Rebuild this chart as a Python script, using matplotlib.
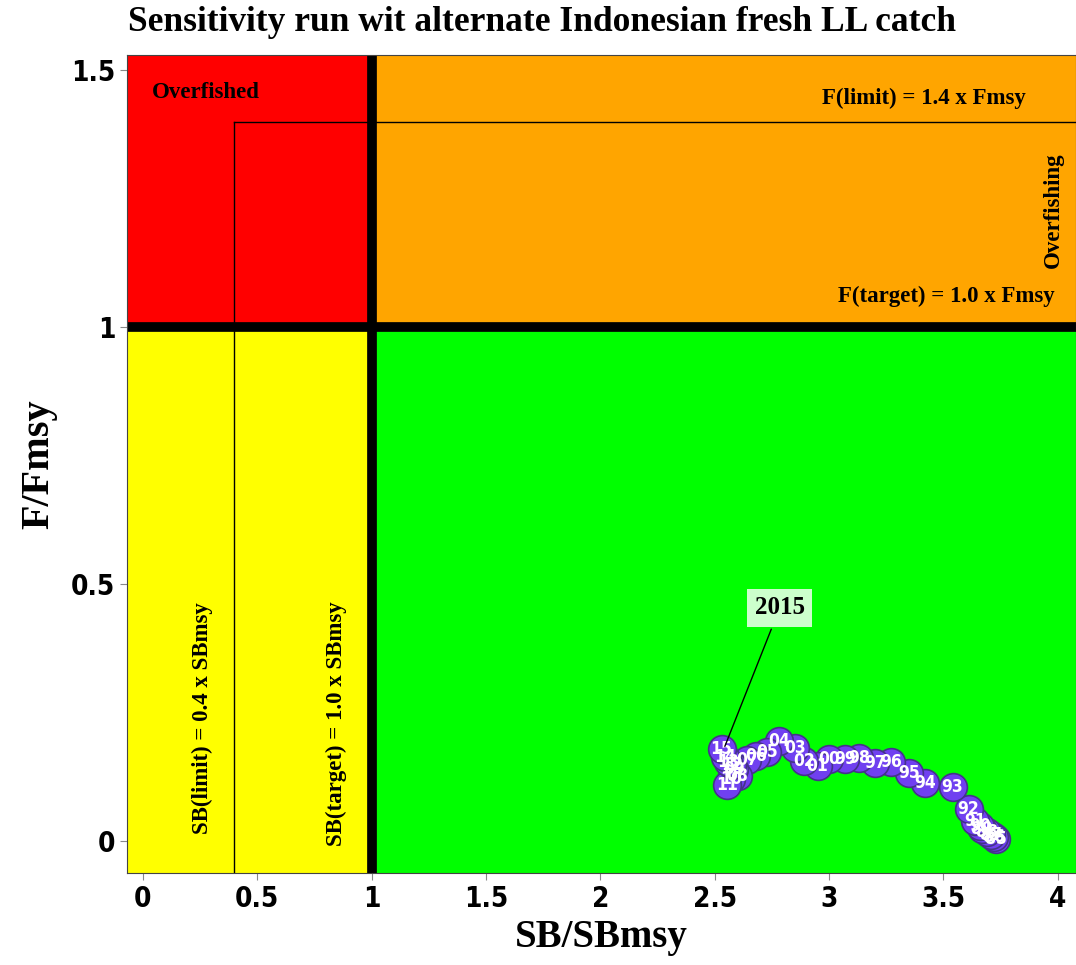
import matplotlib.pyplot as plt
import numpy as np
from matplotlib import font_manager

# data
years = np.array([1985, 1986, 1987, 1988, 1989, 1990, 1991, 1992, 1993, 1994,
                  1995, 1996, 1997, 1998, 1999, 2000, 2001, 2002, 2003, 2004,
                  2005, 2006, 2007, 2008, 2009, 2010, 2011, 2012, 2013, 2014, 2015])
sb_ratio = np.array([3.73, 3.72, 3.71, 3.69, 3.67, 3.66, 3.64, 3.61, 3.54, 3.42,
                     3.35, 3.27, 3.20, 3.13, 3.07, 3.00, 2.95, 2.89, 2.85, 2.78,
                     2.73, 2.68, 2.64, 2.60, 2.585, 2.57, 2.555, 2.575, 2.56, 2.545, 2.53])
f_ratio = np.array([0.005, 0.008, 0.012, 0.018, 0.025, 0.030, 0.040, 0.064, 0.105, 0.113,
                    0.134, 0.154, 0.152, 0.163, 0.160, 0.160, 0.147, 0.156, 0.181, 0.196,
                    0.175, 0.167, 0.158, 0.128, 0.140, 0.122, 0.109, 0.148, 0.155, 0.165, 0.180])
sb_limit, sb_target = 0.4, 1.0
f_limit, f_target = 1.4, 1.0

xlim = (-0.07, 4.08)
ylim = (-0.062, 1.53)

fams = set(f.name for f in font_manager.fontManager.ttflist)
narrow = 'Liberation Sans Narrow' if 'Liberation Sans Narrow' in fams else 'DejaVu Sans'
serif = 'Liberation Serif'

fig = plt.figure(figsize=(10.76, 9.65), dpi=100)
ax = fig.add_axes([0.118, 0.095, 0.882, 0.848])
ax.set_xlim(xlim)
ax.set_ylim(ylim)

# quadrants
ax.fill_between([xlim[0], sb_target], ylim[0], f_target, color='#ffff00', lw=0)
ax.fill_between([sb_target, xlim[1]], ylim[0], f_target, color='#00ff00', lw=0)
ax.fill_between([xlim[0], sb_target], f_target, ylim[1], color='#ff0000', lw=0)
ax.fill_between([sb_target, xlim[1]], f_target, ylim[1], color='#ffa500', lw=0)

# reference lines
ax.plot([sb_limit, sb_limit], [ylim[0], f_limit], color='black', lw=1)
ax.plot([sb_limit, xlim[1]], [f_limit, f_limit], color='black', lw=1)
ax.axvline(sb_target, color='black', lw=7)
ax.axhline(f_target, color='black', lw=7)

tf = dict(family=serif, fontweight='bold', fontsize=16.5, color='black')
ax.text(0.04, 1.457, 'Overfished', ha='left', va='center', **tf)
ax.text(3.86, 1.445, 'F(limit) = 1.4 x Fmsy', ha='right', va='center', **tf)
ax.text(3.985, 1.06, 'F(target) = 1.0 x Fmsy', ha='right', va='center', **tf)
ax.text(3.98, 1.228, 'Overfishing', ha='center', va='center', rotation=90, **tf)
ax.text(0.258, 0.24, 'SB(limit) = 0.4 x SBmsy', ha='center', va='center', rotation=90, **tf)
ax.text(0.848, 0.23, 'SB(target) = 1.0 x SBmsy', ha='center', va='center', rotation=90, **tf)

# trajectory
ax.plot(sb_ratio, f_ratio, color='#000066', lw=2, zorder=3)
ax.plot(sb_ratio, f_ratio, 'o', ms=20, mfc='#7040f0', mec='#443388', mew=1.2, zorder=4)
for x, y, yr in zip(sb_ratio, f_ratio, years):
    ax.text(x, y, f'{yr % 100:02d}', ha='center', va='center', color='white',
            family=narrow, fontstretch='condensed', fontweight='bold', fontsize=12.5, zorder=5)

ax.annotate(str(years[-1]), xy=(sb_ratio[-1] + 0.01, f_ratio[-1]), xytext=(2.785, 0.455),
            ha='center', va='center', family=serif, fontweight='bold', fontsize=18,
            bbox=dict(boxstyle='square,pad=0.3', fc='#ccffcc', ec='none'),
            arrowprops=dict(arrowstyle='-', color='black', lw=1), zorder=6)

ax.set_xticks([0, 0.5, 1, 1.5, 2, 2.5, 3, 3.5, 4])
ax.set_xticklabels(['0', '0.5', '1', '1.5', '2', '2.5', '3', '3.5', '4'])
ax.set_yticks([0, 0.5, 1, 1.5])
ax.set_yticklabels(['0', '0.5', '1', '1.5'])
for lab in ax.get_xticklabels() + ax.get_yticklabels():
    lab.set_family(narrow)
    lab.set_fontstretch('condensed')
    lab.set_fontsize(20)
    lab.set_fontweight('bold')
ax.tick_params(length=5, color='#888888')
for s in ax.spines.values():
    s.set_color('#444444')

ax.set_xlabel('SB/SBmsy', family=serif, fontweight='bold', fontsize=28, labelpad=4)
ax.set_ylabel('F/Fmsy', family=serif, fontweight='bold', fontsize=29, labelpad=10)
fig.text(0.119, 0.977, 'Sensitivity run wit alternate Indonesian fresh LL catch',
         ha='left', va='center', family=serif, fontweight='bold', fontsize=25.5)

fig.savefig('out.png', dpi=100)
